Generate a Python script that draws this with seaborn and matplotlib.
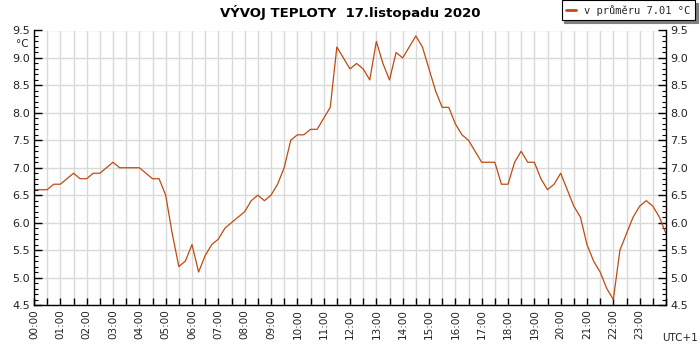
import numpy as np
import pandas as pd
import matplotlib
matplotlib.use("Agg")
import matplotlib.pyplot as plt
from matplotlib.ticker import MultipleLocator, FixedLocator, FormatStrFormatter
import seaborn as sns

# --- data (15-minute readings, 00:00 .. 24:00) ---
hours = [i * 0.25 for i in range(97)]
temps = [
    6.6, 6.6, 6.6, 6.7, 6.7, 6.8, 6.9, 6.8,   # 00:00-01:45
    6.8, 6.9, 6.9, 7.0, 7.1, 7.0, 7.0, 7.0,   # 02:00-03:45
    7.0, 6.9, 6.8, 6.8, 6.5, 5.8, 5.2, 5.3,   # 04:00-05:45
    5.6, 5.1, 5.4, 5.6, 5.7, 5.9, 6.0, 6.1,   # 06:00-07:45
    6.2, 6.4, 6.5, 6.4, 6.5, 6.7, 7.0, 7.5,   # 08:00-09:45
    7.6, 7.6, 7.7, 7.7, 7.9, 8.1, 9.2, 9.0,   # 10:00-11:45
    8.8, 8.9, 8.8, 8.6, 9.3, 8.9, 8.6, 9.1,   # 12:00-13:45
    9.0, 9.2, 9.4, 9.2, 8.8, 8.4, 8.1, 8.1,   # 14:00-15:45
    7.8, 7.6, 7.5, 7.3, 7.1, 7.1, 7.1, 6.7,   # 16:00-17:45
    6.7, 7.1, 7.3, 7.1, 7.1, 6.8, 6.6, 6.7,   # 18:00-19:45
    6.9, 6.6, 6.3, 6.1, 5.6, 5.3, 5.1, 4.8,   # 20:00-21:45
    4.6, 5.5, 5.8, 6.1, 6.3, 6.4, 6.3, 6.1,   # 22:00-23:45
    5.8,                                      # 24:00
]
hour_labels = [f"{h:02d}:00" for h in range(24)]
title = "VÝVOJ TEPLOTY  17.listopadu 2020"
legend_label = "v průměru 7.01 °C"

df = pd.DataFrame({"hour": hours, "temp": temps})

sns.set_theme(style="white")
plt.rcParams["font.family"] = ["DejaVu Sans"]

fig = plt.figure(figsize=(7, 3.5), dpi=100)
ax = fig.add_axes([34 / 700, 45 / 350, 632 / 700, 274.5 / 350])

line_color = "#c04a10"
sns.lineplot(data=df, x="hour", y="temp", ax=ax, color=line_color,
             linewidth=0.9, label=legend_label, legend=False)

ax.set_xlim(0, 24)
ax.set_ylim(4.5, 9.5)

# x axis
ax.xaxis.set_major_locator(FixedLocator(list(range(24))))
ax.set_xticklabels(hour_labels, rotation=90, fontsize=7.5, color="#222222")
ax.xaxis.set_minor_locator(MultipleLocator(0.5))
# y axis
ax.yaxis.set_major_locator(MultipleLocator(0.5))
ax.yaxis.set_minor_locator(MultipleLocator(0.1))
ax.yaxis.set_major_formatter(FormatStrFormatter("%.1f"))

ax.grid(True, which="major", axis="y", color="#d9d9d9", linewidth=1)
ax.grid(True, which="minor", axis="x", color="#d9d9d9", linewidth=1)
ax.grid(True, which="major", axis="x", color="#d9d9d9", linewidth=1)
ax.set_axisbelow(True)

ax.tick_params(axis="x", which="both", direction="in", length=5, width=1,
               color="black", bottom=True, top=False, pad=3)
ax.tick_params(axis="y", which="major", direction="in", length=6, width=1,
               color="black", left=True, right=True, labelleft=True,
               labelright=True, labelsize=8, pad=3, labelcolor="#222222")
ax.tick_params(axis="y", which="minor", direction="in", length=3, width=0.8,
               color="black", left=True, right=True)

for side in ["left", "right", "bottom"]:
    ax.spines[side].set_visible(True)
    ax.spines[side].set_color("black")
    ax.spines[side].set_linewidth(1)
ax.spines["top"].set_visible(False)

ax.set_xlabel("")
ax.set_ylabel("")

# texts
fig.text(350 / 700, 1 - 12 / 350, title, ha="center", va="center",
         fontsize=9.5, fontweight="bold", color="black")
fig.text(22 / 700, 1 - 44 / 350, "°C", ha="center", va="center",
         fontsize=7.5, color="#222222")
fig.text(698 / 700, 1 - 338 / 350, "UTC+1", ha="right", va="center",
         fontsize=7.5, color="#222222")

handles, labels = ax.get_legend_handles_labels()
leg = fig.legend(handles, labels, loc="upper right",
                 bbox_to_anchor=(695 / 700, 1.0), frameon=True,
                 fancybox=False, shadow={"color": "#808080", "alpha": 1.0, "ox": 2, "oy": -2},
                 prop={"family": "DejaVu Sans Mono", "size": 7.5},
                 handlelength=0.9, handletextpad=0.8, borderpad=0.45,
                 borderaxespad=0.0)
leg.get_frame().set_edgecolor("black")
leg.get_frame().set_linewidth(0.8)
for h in leg.legend_handles:
    h.set_linewidth(2)

fig.savefig("out.png", dpi=100)
